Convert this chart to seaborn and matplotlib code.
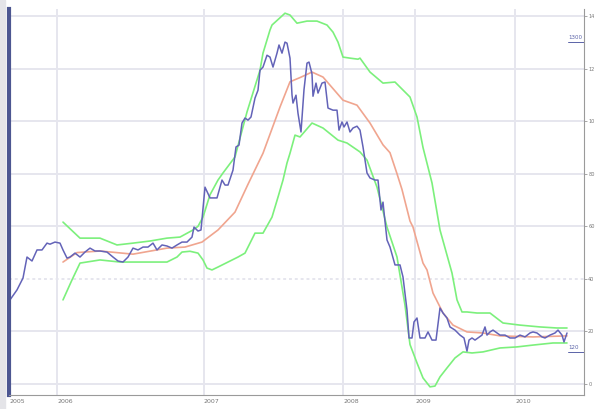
import pandas as pd
import matplotlib
matplotlib.use("Agg")
import matplotlib.pyplot as plt
import seaborn as sns

# x = trading period index, y = price
price_t = [1, 8, 14, 18, 23, 28, 33, 38, 41, 46, 51, 54, 58, 61, 66, 71, 76, 81, 86, 91,
           98, 104, 109, 114, 119, 124, 129, 134, 139, 144, 148, 153, 158, 163, 168, 173,
           178, 183, 185, 189, 192, 196, 201, 208, 213, 216, 219, 224, 227, 230, 233, 236,
           239, 242, 246, 249, 251, 254, 258, 261, 264, 268, 270, 273, 276, 278, 281, 283,
           284, 287, 289, 292, 295, 298, 300, 303, 304, 307, 309, 313, 316, 319, 324, 328,
           330, 333, 335, 338, 341, 344, 348, 351, 354, 358, 361, 366, 369, 372, 374, 375,
           378, 381, 386, 391, 394, 398, 400, 403, 405, 408, 411, 416, 419, 423, 427, 431,
           434, 438, 441, 446, 451, 455, 458, 460, 463, 466, 469, 473, 476, 478, 481, 484,
           488, 491, 496, 501, 506, 511, 516, 521, 524, 528, 533, 536, 541, 546, 549, 553,
           555, 558]
price = [320, 358, 403, 483, 468, 510, 510, 536, 532, 540, 536, 510, 479, 483, 498, 483,
         502, 517, 506, 506, 502, 483, 468, 464, 483, 517, 510, 521, 521, 536, 510, 529,
         525, 517, 529, 540, 540, 559, 597, 582, 586, 749, 708, 708, 776, 757, 757, 814,
         902, 909, 993, 1012, 1004, 1016, 1088, 1118, 1194, 1206, 1251, 1244, 1206, 1259,
         1290, 1259, 1301, 1297, 1240, 1100, 1069, 1099, 1030, 959, 1120, 1221, 1225, 1180,
         1095, 1145, 1107, 1145, 1149, 1050, 1042, 1042, 966, 997, 978, 997, 959, 974, 981,
         966, 902, 803, 784, 776, 776, 662, 692, 654, 548, 521, 453, 453, 407, 281, 175,
         175, 236, 251, 175, 175, 198, 167, 167, 289, 270, 251, 217, 205, 186, 175, 125,
         167, 175, 167, 175, 186, 217, 186, 198, 205, 194, 186, 186, 175, 175, 186, 179,
         194, 198, 194, 179, 175, 186, 194, 205, 186, 160, 194]

ma_t = [54, 68, 91, 124, 158, 176, 193, 209, 226, 239, 254, 271, 281, 291, 303, 314, 334,
        348, 361, 374, 381, 388, 393, 401, 404, 414, 418, 424, 431, 434, 444, 458, 474, 491,
        524, 558]
ma = [464, 500, 506, 494, 517, 521, 540, 586, 654, 760, 878, 1054, 1150, 1166, 1187, 1168,
      1080, 1061, 993, 910, 880, 800, 740, 620, 597, 460, 434, 346, 293, 270, 224, 198, 194,
      183, 179, 183]

upper_t = [54, 71, 91, 108, 124, 141, 158, 171, 184, 189, 194, 201, 209, 214, 226, 238,
           251, 254, 261, 263, 276, 281, 288, 298, 308, 318, 324, 329, 334, 341, 349, 351,
           361, 374, 386, 401, 408, 414, 423, 431, 443, 448, 453, 458, 468, 481, 494, 511,
           531, 548, 558]
upper = [616, 555, 555, 529, 536, 544, 555, 559, 586, 600, 635, 720, 776, 803, 864, 1035,
         1194, 1259, 1347, 1366, 1411, 1404, 1373, 1381, 1381, 1366, 1339, 1301, 1244, 1240,
         1236, 1240, 1187, 1145, 1149, 1092, 1016, 900, 765, 586, 422, 320, 274, 274, 270,
         270, 232, 224, 217, 213, 213]

lower_t = [54, 63, 71, 91, 111, 131, 158, 168, 173, 181, 189, 194, 198, 203, 209, 219, 229,
           236, 246, 254, 263, 269, 274, 278, 281, 286, 291, 303, 314, 329, 338, 351, 358,
           368, 378, 388, 396, 401, 408, 414, 421, 426, 431, 438, 446, 454, 463, 474, 491,
           508, 524, 544, 558]
lower = [320, 396, 460, 472, 464, 464, 464, 483, 502, 505, 498, 472, 441, 434, 445, 464, 483,
         498, 574, 574, 635, 711, 776, 841, 878, 947, 940, 993, 974, 928, 917, 883, 852, 749,
         597, 483, 300, 150, 80, 23, -11, -8, 27, 61, 99, 122, 118, 122, 137, 141, 148, 156,
         156]

year_pos = [1, 48, 195, 334, 406, 506]
year_labels = ["2005", "2006", "2007", "2008", "2009", "2010"]
y_ticks = [0, 200, 400, 600, 800, 1000, 1200, 1400]
# the right-hand labels are cut by the image edge in the original: only these show
y_labels = ["0", "20", "40", "60", "80", "10", "12", "14"]
high_low = [1300, 120]

sns.set_style("white")
plt.rcParams['font.family'] = ['DejaVu Sans']

fig = plt.figure(figsize=(5.95, 4.09), dpi=100)
fig.patches.append(plt.Rectangle((0, 0), 5 / 595, 1, transform=fig.transFigure,
                                 color="#e4e4e8", zorder=0))
ax = fig.add_axes([9 / 595, 14 / 409, 575 / 595, 386 / 409])

df_price = pd.DataFrame({"t": price_t, "v": price})
df_ma = pd.DataFrame({"t": ma_t, "v": ma})
df_up = pd.DataFrame({"t": upper_t, "v": upper})
df_lo = pd.DataFrame({"t": lower_t, "v": lower})

sns.lineplot(data=df_up, x="t", y="v", ax=ax, color="#7cf07c", lw=1.2, estimator=None, sort=False)
sns.lineplot(data=df_lo, x="t", y="v", ax=ax, color="#7cf07c", lw=1.2, estimator=None, sort=False)
sns.lineplot(data=df_ma, x="t", y="v", ax=ax, color="#f0a58f", lw=1.2, estimator=None, sort=False)
sns.lineplot(data=df_price, x="t", y="v", ax=ax, color="#6363b8", lw=1.1, estimator=None, sort=False)

ax.set_xlim(0, 575)
ax.set_ylim(-42, 1427)
ax.set_xlabel("")
ax.set_ylabel("")

ax.set_xticks(year_pos)
ax.set_xticklabels(year_labels, ha="left", fontsize=4.5, color="#777777")
ax.tick_params(axis="x", length=0, pad=3)
ax.yaxis.tick_right()
ax.set_yticks(y_ticks)
ax.set_yticklabels(y_labels, fontsize=3.6, color="#777777")
ax.tick_params(axis="y", length=2.5, width=0.6, color="#999999", pad=0.5)

ax.grid(True, color="#e6e6ee", lw=1.4)
ax.yaxis.get_gridlines()[2].set_linestyle((0, (1.5, 1.5)))
ax.set_axisbelow(True)

ax.spines["top"].set_visible(False)
ax.spines["left"].set_color("#4c5691")
ax.spines["left"].set_linewidth(3)
ax.spines["right"].set_color("#9a9a9a")
ax.spines["right"].set_linewidth(0.8)
ax.spines["bottom"].set_color("#9a9a9a")
ax.spines["bottom"].set_linewidth(0.8)

for val in high_low:
    ax.plot([559, 575], [val, val], color="#5a63a8", lw=0.7)
    ax.text(559, val + 8, str(val), fontsize=4, color="#5a63a8", ha="left", va="bottom")

fig.savefig("out.png", dpi=100)
